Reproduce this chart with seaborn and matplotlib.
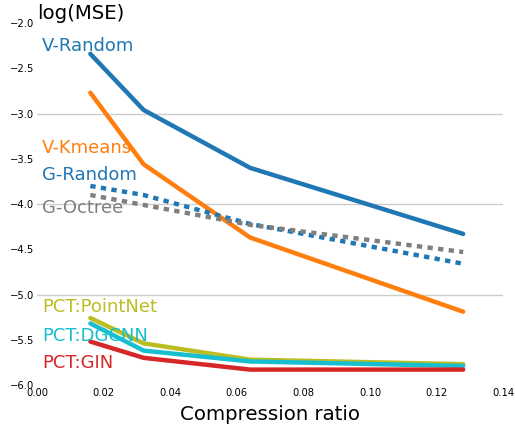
import matplotlib
matplotlib.use("Agg")
import matplotlib.pyplot as plt
import seaborn as sns
import pandas as pd

ratios = [0.016, 0.032, 0.064, 0.128]
v_random = [-2.34, -2.96, -3.60, -4.33]
v_kmeans = [-2.77, -3.56, -4.37, -5.19]
g_random = [-3.80, -3.90, -4.22, -4.66]
g_octree = [-3.90, -4.01, -4.23, -4.53]
pct_pointnet = [-5.26, -5.54, -5.72, -5.77]
pct_dgcnn = [-5.32, -5.62, -5.74, -5.79]
pct_gin = [-5.52, -5.70, -5.83, -5.83]

series = [
    ("V-Random", v_random, "#1f77b4", "-", -2.31),
    ("V-Kmeans", v_kmeans, "#ff7f0e", "-", -3.44),
    ("G-Random", g_random, "#1f77b4", ":", -3.73),
    ("G-Octree", g_octree, "#7f7f7f", ":", -4.10),
    ("PCT:PointNet", pct_pointnet, "#bcbd22", "-", -5.19),
    ("PCT:DGCNN", pct_dgcnn, "#17becf", "-", -5.51),
    ("PCT:GIN", pct_gin, "#d62728", "-", -5.81),
]

sns.set_style("white")
plt.rcParams['font.family'] = ['DejaVu Sans']
plt.rcParams['text.color'] = 'black'
plt.rcParams['axes.labelcolor'] = 'black'
plt.rcParams['xtick.color'] = 'black'
plt.rcParams['ytick.color'] = 'black'

fig = plt.figure(figsize=(5.15, 4.28), dpi=100)
ax = fig.add_axes([0.072, 0.1005, 0.905, 0.8455])

for yv in [-3, -4, -5]:
    ax.axhline(yv, color="#cccccc", lw=1, zorder=0)

for name, vals, color, ls, ty in series:
    df = pd.DataFrame({"x": ratios, "y": vals})
    style = "-" if ls == "-" else (0, (1.2, 1.2))
    sns.lineplot(data=df, x="x", y="y", ax=ax, color=color, lw=3.2, linestyle=style)
    ax.text(0.0015, ty, name, color=color, fontsize=13, va="baseline", ha="left")

ax.set_xlim(0, 0.14)
ax.set_ylim(-6, -2)
ax.set_xticks([0.0, 0.02, 0.04, 0.06, 0.08, 0.10, 0.12, 0.14])
ax.set_xticklabels(["0.00", "0.02", "0.04", "0.06", "0.08", "0.10", "0.12", "0.14"])
ax.set_yticks([-6.0, -5.5, -5.0, -4.5, -4.0, -3.5, -3.0, -2.5, -2.0])
ax.set_yticklabels(["\u22126.0", "\u22125.5", "\u22125.0", "\u22124.5", "\u22124.0", "\u22123.5", "\u22123.0", "\u22122.5", "\u22122.0"])
ax.tick_params(axis="both", length=0, labelsize=7.2, pad=2)
ax.set_xlabel("Compression ratio", fontsize=14.2, labelpad=5)
ax.set_ylabel("")
for s in ax.spines.values():
    s.set_visible(False)
ax.text(0.0, -1.95, "log(MSE)", fontsize=14.2, ha="left", va="baseline", clip_on=False)

fig.savefig("out.png", dpi=100)
